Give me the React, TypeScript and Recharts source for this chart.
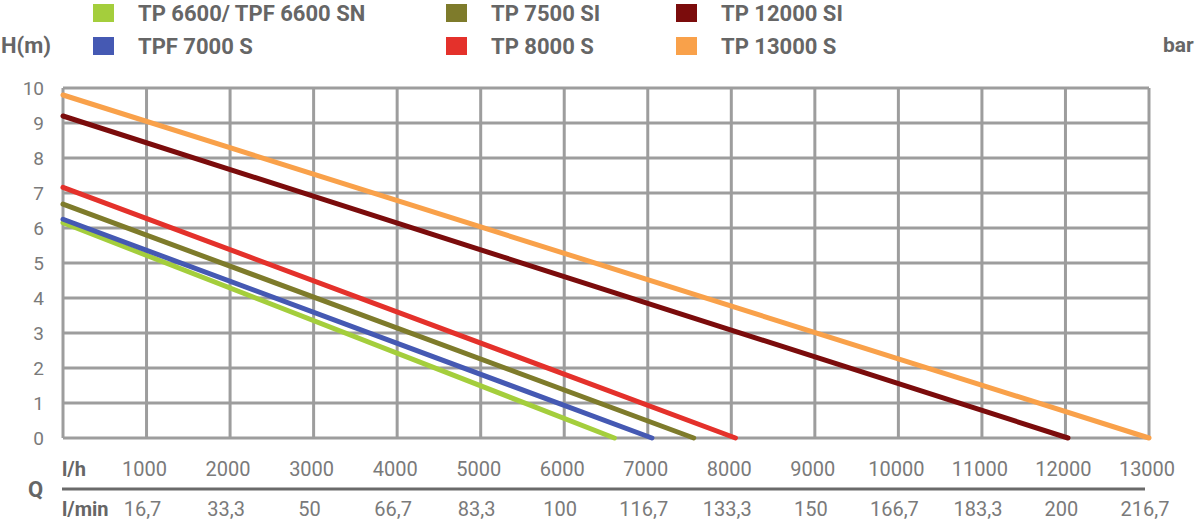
import { CartesianGrid, Line, LineChart, XAxis, YAxis } from "recharts";

const LPH_TICKS = [0, 1000, 2000, 3000, 4000, 5000, 6000, 7000, 8000, 9000, 10000, 11000, 12000, 13000];
const LPM_LABELS = ["", "16,7", "33,3", "50", "66,7", "83,3", "100", "116,7", "133,3", "150", "166,7", "183,3", "200", "216,7"];
const H_TICKS = [0, 1, 2, 3, 4, 5, 6, 7, 8, 9, 10];
const BAR_TICKS = [0, 0.1, 0.2, 0.3, 0.4, 0.5, 0.6, 0.7, 0.8, 0.9, 1];

// pump curves: flow (l/h) -> head (m)
const TP6600 = [{ q: 0, h: 6.15 }, { q: 6600, h: 0 }];
const TPF7000 = [{ q: 0, h: 6.25 }, { q: 7050, h: 0 }];
const TP7500 = [{ q: 0, h: 6.68 }, { q: 7550, h: 0 }];
const TP8000 = [{ q: 0, h: 7.16 }, { q: 8050, h: 0 }];
const TP12000 = [{ q: 0, h: 9.2 }, { q: 12030, h: 0 }];
const TP13000 = [{ q: 0, h: 9.8 }, { q: 13000, h: 0 }];

const SERIES = [
  { name: "TP 6600/ TPF 6600 SN", color: "#A4CE3C", data: TP6600 },
  { name: "TPF 7000 S", color: "#4559B3", data: TPF7000 },
  { name: "TP 7500 SI", color: "#7E7B2B", data: TP7500 },
  { name: "TP 8000 S", color: "#E4312B", data: TP8000 },
  { name: "TP 12000 SI", color: "#7B0C0C", data: TP12000 },
  { name: "TP 13000 S", color: "#F9A14A", data: TP13000 },
];

const FONT = "Roboto, 'Noto Sans', sans-serif";
const TICK = "#7a7a7a";
const LABEL = "#666666";
const GRID = "#9d9d9d";

const FlowTick = (props: any) => {
  const { x, y, payload } = props;
  const i = LPH_TICKS.indexOf(payload.value);
  if (i === 0) {
    return (
      <g fontFamily={FONT} fontWeight={700} fill={LABEL}>
        <text x={x - 1} y={y + 38} fontSize={20}>l/h</text>
        <text x={x - 1} y={y + 78} fontSize={20}>l/min</text>
        <text x={x - 35} y={y + 59} fontSize={22}>Q</text>
        <line x1={x - 1} x2={x + 1082} y1={y + 51} y2={y + 51} stroke="#6a6a6a" strokeWidth={3} />
      </g>
    );
  }
  return (
    <g fontFamily={FONT} fontSize={20} fill={TICK} textAnchor="middle">
      <text x={x - 2} y={y + 38}>{payload.value}</text>
      <text x={x - 4} y={y + 78}>{LPM_LABELS[i]}</text>
    </g>
  );
};

const barFmt = (v: number) => (v === 0 ? "0" : v.toFixed(1).replace(".", ","));

export default function App() {
  const legendOrder = [
    [SERIES[0], SERIES[2], SERIES[4]],
    [SERIES[1], SERIES[3], SERIES[5]],
  ];
  const colX = [93, 446, 676];
  return (
    <div style={{ position: "absolute", left: 0, top: 0, width: 1200, height: 522, background: "#fff", fontFamily: FONT }}>
      {legendOrder.map((row, r) =>
        row.map((s, c) => (
          <div
            key={s.name}
            style={{ position: "absolute", left: colX[c], top: r === 0 ? 3 : 36, display: "flex", alignItems: "center", height: 20 }}
          >
            <div style={{ width: 21, height: 18, background: s.color }} />
            <span style={{ marginLeft: 24, fontSize: 22, fontWeight: 700, color: LABEL, whiteSpace: "nowrap" }}>{s.name}</span>
          </div>
        ))
      )}
      <div style={{ position: "absolute", left: 1, top: 33, fontSize: 22, fontWeight: 700, color: LABEL }}>H(m)</div>
      <div style={{ position: "absolute", left: 1163, top: 33, fontSize: 21, fontWeight: 700, color: LABEL }}>bar</div>
      <LineChart width={1200} height={522} margin={{ top: 88, right: 0, bottom: 0, left: 19 }}>
        <CartesianGrid stroke={GRID} strokeWidth={3} yAxisId="left" />
        <XAxis
          dataKey="q"
          type="number"
          domain={[0, 13000]}
          ticks={LPH_TICKS}
          height={84}
          axisLine={false}
          tickLine={false}
          tickSize={0}
          tickMargin={0}
          interval={0}
          tick={<FlowTick />}
          allowDuplicatedCategory={false}
        />
        <YAxis
          yAxisId="left"
          domain={[0, 10]}
          ticks={H_TICKS}
          width={44}
          axisLine={false}
          tickLine={false}
          tickSize={0}
          tickMargin={19}
          interval={0}
          tick={{ fill: TICK, fontSize: 19, fontFamily: FONT }}
        />
        <YAxis
          yAxisId="right"
          orientation="right"
          domain={[0, 1]}
          ticks={BAR_TICKS}
          width={51}
          axisLine={false}
          tickLine={false}
          tickSize={0}
          tickMargin={17}
          interval={0}
          tickFormatter={barFmt}
          tick={{ fill: TICK, fontSize: 19, fontFamily: FONT }}
        />
        {SERIES.map((s) => (
          <Line
            key={s.name}
            yAxisId="left"
            data={s.data}
            dataKey="h"
            type="linear"
            stroke={s.color}
            strokeWidth={5}
            strokeLinecap="round"
            dot={false}
            activeDot={false}
            isAnimationActive={false}
          />
        ))}
      </LineChart>
    </div>
  );
}
